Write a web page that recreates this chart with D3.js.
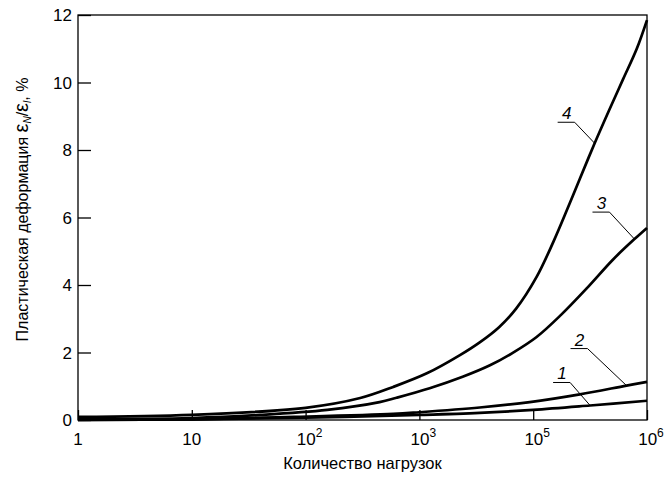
<!DOCTYPE html>
<html>
<head>
  <meta charset="utf-8">
  <title></title>
  <style>
    body { margin: 0; background: #fff; }
    svg text { font-family: "Liberation Sans", Arial, sans-serif; fill: #000; }
  </style>
  <script src="https://d3js.org/d3.v7.min.js"></script>
</head>
<body>
  <svg id="chart" width="665" height="477"></svg>
  <script>
    // x is the position on the (unevenly labelled) log axis: 0 = 1, 1 = 10, ... 4 = 10^5, 5 = 10^6
    const xTickBase = ["1", "10", "10", "10", "10", "10"]
    const xTickExp = ["", "", "2", "3", "5", "6"]
    const yTicks = [0, 2, 4, 6, 8, 10, 12]

    const curve1 = [[0, 0.0], [1, 0.02], [2, 0.07], [3, 0.15], [3.53, 0.21], [4, 0.3], [4.5, 0.43], [5, 0.57]]
    const curve2 = [[0, 0.0], [1, 0.02], [1.9, 0.09], [2.77, 0.18], [3, 0.23], [3.53, 0.37], [3.97, 0.53], [4.41, 0.76], [4.82, 1.02], [5, 1.13]]
    const curve3 = [[0, 0.03], [1, 0.06], [1.6, 0.15], [2.19, 0.3], [2.65, 0.53], [2.8, 0.66], [3.09, 0.94], [3.38, 1.28],
      [3.62, 1.62], [3.82, 1.99], [4.03, 2.46], [4.24, 3.1], [4.47, 3.9], [4.7, 4.75], [4.89, 5.36], [5, 5.69]]
    const curve4 = [[0, 0.09], [1, 0.15], [2, 0.36], [2.48, 0.65], [2.77, 0.98], [3.07, 1.39], [3.36, 1.93], [3.53, 2.3],
      [3.7, 2.75], [3.85, 3.3], [4.03, 4.24], [4.18, 5.3], [4.3, 6.25], [4.41, 7.15], [4.54, 8.2], [4.67, 9.2],
      [4.79, 10.1], [4.91, 11.0], [5, 11.85]]

    const curveNames = ["1", "2", "3", "4"]
    // x position where each leader line touches its curve
    const labelAt = [4.5, 4.82, 4.89, 4.54]

    const svg = d3.select("#chart"),
      width = +svg.attr("width"),
      height = +svg.attr("height")
    const margin = { top: 15, right: 18, bottom: 57, left: 78 }

    const x = d3.scaleLinear().domain([0, 5]).range([margin.left, width - margin.right])
    const y = d3.scaleLinear().domain([0, 12]).range([height - margin.bottom, margin.top])

    // frame
    svg.append("rect")
      .attr("x", x(0)).attr("y", y(12))
      .attr("width", x(5) - x(0)).attr("height", y(0) - y(12))
      .attr("fill", "none").attr("stroke", "#000").attr("stroke-width", 1.3)

    // y axis, ticks inward
    const yAxis = svg.append("g")
      .attr("transform", `translate(${x(0)},0)`)
      .call(d3.axisRight(y).tickValues(yTicks).tickSize(13).tickFormat(""))
    yAxis.select(".domain").remove()
    yAxis.selectAll("line").attr("stroke", "#000").attr("stroke-width", 1.3)

    svg.append("g").selectAll("text")
      .data(yTicks)
      .enter()
      .append("text")
      .attr("x", x(0) - 6)
      .attr("y", d => y(d) + 6)
      .attr("text-anchor", "end")
      .style("font-size", "17px")
      .text(d => d)

    // x axis, ticks inward
    const xAxis = svg.append("g")
      .attr("transform", `translate(0,${y(0)})`)
      .call(d3.axisTop(x).tickValues(d3.range(6)).tickSize(10).tickFormat(""))
    xAxis.select(".domain").remove()
    xAxis.selectAll("line").attr("stroke", "#000").attr("stroke-width", 1.3)

    const xl = svg.append("g").selectAll("text")
      .data(d3.range(6))
      .enter()
      .append("text")
      .attr("x", d => x(d) + (xTickExp[d] ? 4 : 0))
      .attr("y", y(0) + 25)
      .attr("text-anchor", "middle")
      .style("font-size", "17px")
    xl.append("tspan").text(d => xTickBase[d])
    xl.append("tspan")
      .attr("dy", -8)
      .style("font-size", "12px")
      .text(d => xTickExp[d])

    // axis titles
    svg.append("text")
      .attr("x", (x(0) + x(5)) / 2)
      .attr("y", height - 8)
      .attr("text-anchor", "middle")
      .style("font-size", "16.5px")
      .text("Количество нагрузок")

    const yt = svg.append("text")
      .attr("transform", `translate(28,${(y(0) + y(12)) / 2 - 8}) rotate(-90)`)
      .attr("text-anchor", "middle")
      .style("font-size", "16px")
    yt.append("tspan").text("Пластическая деформация ")
    yt.append("tspan").style("font-size", "20px").text("ε")
    yt.append("tspan").attr("dy", 3).style("font-size", "10px").style("font-style", "italic").text("N")
    yt.append("tspan").attr("dy", -3).text("/")
    yt.append("tspan").style("font-size", "20px").text("ε")
    yt.append("tspan").attr("dy", 3).style("font-size", "10px").style("font-style", "italic").text("l")
    yt.append("tspan").attr("dy", -3).text(", %")

    // curves
    const line = d3.line()
      .x(d => x(d[0]))
      .y(d => y(d[1]))
      .curve(d3.curveCatmullRom.alpha(0.5))

    const curves = [curve1, curve2, curve3, curve4]
    svg.append("g")
      .selectAll("path")
      .data(curves)
      .enter()
      .append("path")
      .attr("d", line)
      .attr("fill", "none")
      .attr("stroke", "#000")
      .attr("stroke-width", 2.7)
      .attr("stroke-linejoin", "round")

    // leader labels: offset (dx, dy) from the curve point up-left to the end of the underline
    const leader = [[20, 23], [39, 37], [25, 27], [20, 21]]

    function valueAt(c, px) {
      for (let i = 1; i < c.length; i++) {
        if (c[i][0] >= px) {
          const t = (px - c[i - 1][0]) / (c[i][0] - c[i - 1][0])
          return c[i - 1][1] + t * (c[i][1] - c[i - 1][1])
        }
      }
      return c[c.length - 1][1]
    }

    curves.forEach((c, i) => {
      const px = x(labelAt[i])
      const py = y(valueAt(c, labelAt[i]))
      const kx = px - leader[i][0], ky = py - leader[i][1]
      const g = svg.append("g")
      g.append("path")
        .attr("d", `M${px},${py} L${kx},${ky} L${kx - 17},${ky}`)
        .attr("fill", "none")
        .attr("stroke", "#000")
        .attr("stroke-width", 1)
      g.append("text")
        .attr("x", kx - 8)
        .attr("y", ky - 3)
        .attr("text-anchor", "middle")
        .style("font-size", "17px")
        .style("font-style", "italic")
        .text(curveNames[i])
    })
  </script>
</body>
</html>
